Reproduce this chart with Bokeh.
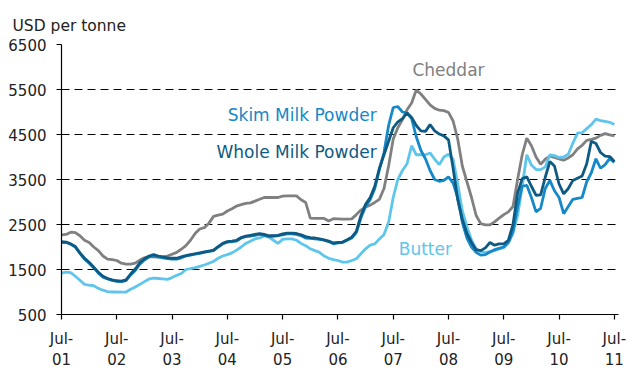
from bokeh.plotting import figure
from bokeh.models import Range1d, FixedTicker
from bokeh.core.properties import value
from bokeh.embed import file_html
from bokeh.resources import INLINE

# Monthly prices, July 2001 to July 2011 (USD per tonne)
months = list(range(121))  # month index, 0 = Jul-01

cheddar = [
    2270, 2280, 2330, 2320, 2250, 2150, 2100, 2000, 1920, 1800, 1730, 1720,
    1700, 1640, 1620, 1620, 1640, 1710, 1760, 1780, 1780, 1775, 1780, 1800,
    1840, 1880, 1950, 2030, 2150, 2300, 2400, 2430, 2530, 2680, 2710, 2730,
    2800, 2850, 2910, 2940, 2970, 2980, 3020, 3060, 3100, 3100, 3100, 3100,
    3130, 3135, 3135, 3135, 3050, 2990, 2640, 2635, 2635, 2635, 2580, 2630,
    2625, 2620, 2620, 2625, 2720, 2820, 2890, 2930, 2990, 3060, 3300, 3800,
    4400, 4650, 4830, 5050, 5200, 5490, 5400, 5280, 5160, 5080, 5040, 5030,
    4990, 4800, 4400, 3800, 3450, 3100, 2700, 2520, 2490, 2490, 2560, 2640,
    2720, 2780, 2900, 3500, 4050, 4420, 4250, 4000, 3840, 3950, 4020, 3990,
    3960, 3930, 3980, 4050, 4180, 4260, 4370, 4390, 4420, 4480, 4520, 4490,
    4470,
]

skim_milk_powder = [
    2100, 2100, 2060, 2000, 1860, 1730, 1640, 1540, 1420, 1330, 1290, 1260,
    1235, 1230, 1250, 1380, 1480, 1620, 1710, 1780, 1800, 1780, 1760, 1740,
    1730, 1730, 1760, 1800, 1820, 1840, 1860, 1880, 1900, 1920, 2000, 2070,
    2110, 2120, 2130, 2200, 2230, 2240, 2260, 2280, 2260, 2230, 2240, 2250,
    2270, 2290, 2290, 2280, 2250, 2200, 2190, 2180, 2170, 2150, 2120, 2070,
    2090, 2100, 2150, 2200, 2320, 2650, 2900, 3050, 3300, 3720, 4100, 4700,
    5100, 5120, 5000, 4980, 4850, 4450, 4150, 3960, 3700, 3500, 3460, 3480,
    3560, 3420, 3100, 2550, 2200, 2000, 1880, 1820, 1830, 1890, 1940, 1970,
    2000, 2100, 2350, 2900, 3350, 3370, 3100, 2780, 2860, 3300, 3480, 3250,
    3100, 2740, 2900, 3060, 3080, 3100, 3450, 3650, 3960, 3750, 3830, 3970,
    3880,
]

whole_milk_powder = [
    2120, 2110, 2070, 2010, 1870, 1750, 1660, 1550, 1440, 1350, 1300, 1270,
    1250, 1240, 1270, 1400, 1510, 1650, 1740, 1800, 1830, 1800, 1780, 1760,
    1750, 1750, 1780, 1810, 1830, 1850, 1870, 1890, 1910, 1930, 2010, 2080,
    2120, 2130, 2150, 2210, 2240, 2260, 2280, 2300, 2280, 2250, 2250, 2260,
    2290, 2310, 2310, 2300, 2270, 2230, 2210, 2200, 2180, 2160, 2130, 2090,
    2100, 2110, 2160, 2220, 2350, 2700, 2950, 3100, 3350, 3750, 4050, 4350,
    4650, 4780, 4850, 4980, 4880, 4700, 4580, 4570, 4720, 4580, 4510, 4470,
    4380, 3750, 3050, 2620, 2300, 2100, 1940, 1920, 1980, 2100, 2040, 2070,
    2070, 2150, 2500, 3200, 3520, 3560, 3350, 3150, 3160, 3550, 3900, 3800,
    3400, 3180, 3300, 3480, 3530, 3580, 3850, 4350, 4300, 4100, 4020, 4010,
    3900,
]

butter = [
    1420, 1440, 1430, 1350, 1260, 1170, 1150, 1140, 1080, 1040, 1010, 1000,
    1000, 995, 1000, 1060, 1110, 1170, 1230, 1290, 1310, 1300, 1290, 1280,
    1320, 1370, 1410, 1500, 1520, 1540, 1570, 1600, 1640, 1680, 1750, 1800,
    1830, 1870, 1930, 2000, 2080, 2130, 2180, 2200, 2250, 2220, 2150, 2080,
    2170, 2180, 2180, 2150, 2080, 2030, 1960, 1920, 1880, 1800, 1750, 1720,
    1700, 1665, 1665, 1700, 1740, 1850, 1960, 2040, 2070, 2180, 2280, 2550,
    3100, 3500, 3700, 3850, 4250, 4050, 4050, 4050, 4090, 3950, 3830, 4000,
    4060, 3950, 3400, 2800, 2450, 2150, 1950, 1900, 1880, 1900, 1920, 1960,
    1990, 2100, 2300, 2700, 3350, 4050, 3820, 3720, 3720, 3780, 4050, 4030,
    3990, 4000, 4060, 4310, 4530, 4540, 4630, 4720, 4840, 4810, 4790, 4770,
    4720,
]

tick_months = [0, 12, 24, 36, 48, 60, 72, 84, 96, 108, 120]
tick_labels = ["Jul-\n01", "Jul-\n02", "Jul-\n03", "Jul-\n04", "Jul-\n05",
               "Jul-\n06", "Jul-\n07", "Jul-\n08", "Jul-\n09", "Jul-\n10",
               "Jul-\n11"]
y_ticks = [500, 1500, 2500, 3500, 4500, 5500, 6500]

FONT = "DejaVu Sans"
GREY = "#808080"
MID_BLUE = "#1488c8"
DARK_BLUE = "#0e5a82"
LIGHT_BLUE = "#5ec6ec"

p = figure(width=629, height=372, output_backend="svg", toolbar_location=None,
           x_range=Range1d(0, 120.9), y_range=Range1d(500, 6500),
           min_border_left=61, min_border_right=11,
           min_border_top=44, min_border_bottom=56)
p.outline_line_color = None
p.background_fill_color = "white"
p.border_fill_color = "white"

# title in the top-left corner
p.title.text = "USD per tonne"
p.title.text_font = FONT
p.title.text_font_size = "15.5px"
p.title.text_font_style = "normal"
p.title.text_color = "#222222"
p.title.align = "left"
p.title.offset = -49
p.title.standoff = 20

# axes
p.xaxis.ticker = FixedTicker(ticks=tick_months)
p.xaxis.major_label_overrides = dict(zip(tick_months, tick_labels))
p.yaxis.ticker = FixedTicker(ticks=y_ticks)
for ax in (p.xaxis, p.yaxis):
    ax.axis_line_color = "black"
    ax.axis_line_width = 1.2
    ax.major_tick_line_color = "black"
    ax.major_tick_line_width = 1.2
    ax.major_tick_out = 5
    ax.major_tick_in = 0
    ax.minor_tick_line_color = None
    ax.major_label_text_font = FONT
    ax.major_label_text_font_size = "15px"
    ax.major_label_text_color = "#222222"
p.xaxis.major_label_standoff = 10
p.yaxis.major_label_standoff = 10

p.xgrid.visible = False
p.ygrid.ticker = FixedTicker(ticks=y_ticks[1:])
p.ygrid.grid_line_color = "black"
p.ygrid.grid_line_width = 1
p.ygrid.grid_line_dash = "8 5"

# price series
p.line(months, cheddar, line_color=GREY, line_width=2.8)
p.line(months, butter, line_color=LIGHT_BLUE, line_width=2.8)
p.line(months, skim_milk_powder, line_color=MID_BLUE, line_width=2.8)
p.line(months, whole_milk_powder, line_color=DARK_BLUE, line_width=2.8)

# series labels
label_kw = dict(text_font=value(FONT), text_font_size="17px",
                text_baseline="middle")
p.text(x=[84.0], y=[5930], text=["Cheddar"], text_color=GREY,
       text_align="center", **label_kw)
p.text(x=[68.4], y=[4940], text=["Skim Milk Powder"], text_color=MID_BLUE,
       text_align="right", **label_kw)
p.text(x=[68.4], y=[4120], text=["Whole Milk Powder"], text_color=DARK_BLUE,
       text_align="right", **label_kw)
p.text(x=[73.2], y=[1960], text=["Butter"], text_color=LIGHT_BLUE,
       text_align="left", **label_kw)

open("out.html", "w").write(file_html(p, INLINE))
